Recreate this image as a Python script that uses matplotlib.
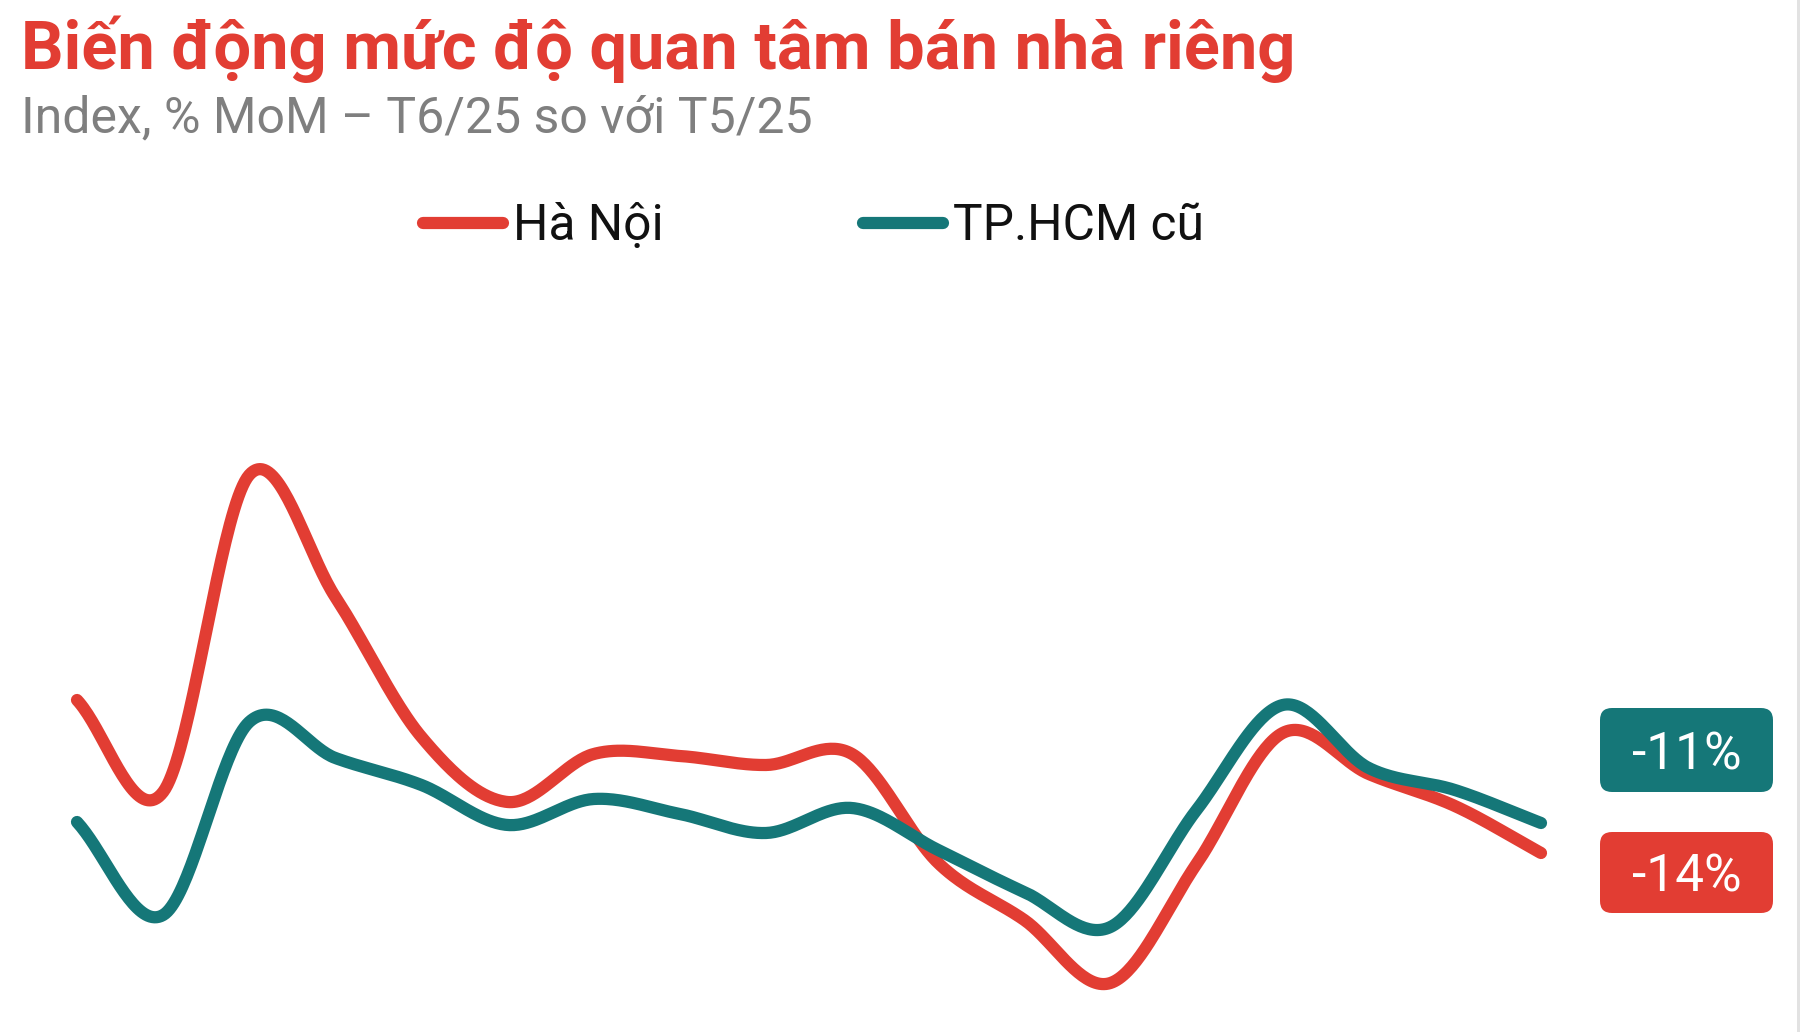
import numpy as np
import matplotlib
matplotlib.use("Agg")
import matplotlib.pyplot as plt
from matplotlib.patches import FancyBboxPatch, Rectangle
from matplotlib.lines import Line2D

# ---- data ----
months = ["T1/24", "T2/24", "T3/24", "T4/24", "T5/24", "T6/24", "T7/24", "T8/24", "T9/24",
          "T10/24", "T11/24", "T12/24", "T1/25", "T2/25", "T3/25", "T4/25", "T5/25", "T6/25"]
ha_noi = [60, 41.6, 105, 80.6, 52.6, 39.6, 49.2, 48.8, 47, 49.2, 27.4, 16, 3.4, 27.2, 53.4, 45.2, 38.8, 29.4]
hcm = [35.6, 17, 55.6, 48.4, 43, 35, 40.2, 37.2, 33.4, 38.4, 30, 21.6, 14.6, 38, 59, 46.4, 42, 35.4]
series_names = ["Hà Nội", "TP.HCM cũ"]
end_labels = ["-14%", "-11%"]

RED = "#e23d33"
TEAL = "#157778"

W, H = 1800, 1032
fig = plt.figure(figsize=(W / 100, H / 100), dpi=100)
fig.patch.set_facecolor("white")

def fx(px):
    return px / W

def fy(py):
    return 1 - py / H

# axes placement
left_px, right_px, top_px, bot_px = 77, 1541, 450, 1000
ax = fig.add_axes([fx(left_px), fy(bot_px), (right_px - left_px) / W, (bot_px - top_px) / H])
ax.set_xlim(0, len(months) - 1)
ax.set_ylim(0, 110)
ax.axis("off")


def catmull_rom(y, n=40):
    y = np.asarray(y, dtype=float)
    x = np.arange(len(y), dtype=float)
    p = np.concatenate([[2 * y[0] - y[1]], y, [2 * y[-1] - y[-2]]])
    xs, ys = [], []
    for i in range(len(y) - 1):
        p0, p1, p2, p3 = p[i], p[i + 1], p[i + 2], p[i + 3]
        m1 = (p2 - p0) / 2
        m2 = (p3 - p1) / 2
        t = np.linspace(0, 1, n, endpoint=(i == len(y) - 2))
        h00 = 2 * t**3 - 3 * t**2 + 1
        h10 = t**3 - 2 * t**2 + t
        h01 = -2 * t**3 + 3 * t**2
        h11 = t**3 - t**2
        xs.append(x[i] + t)
        ys.append(h00 * p1 + h10 * m1 + h01 * p2 + h11 * m2)
    return np.concatenate(xs), np.concatenate(ys)

LW = 8.8
for vals, col in [(ha_noi, RED), (hcm, TEAL)]:
    sx, sy = catmull_rom(vals)
    ax.plot(sx, sy, color=col, lw=LW, solid_capstyle="round", solid_joinstyle="round", clip_on=False)

# Title and subtitle
fig.text(fx(21), fy(69), "Biến động mức độ quan tâm bán nhà riêng", fontfamily="Roboto",
         fontweight="bold", fontsize=48.1, color=RED, ha="left", va="baseline")
fig.text(fx(21), fy(132), "Index, % MoM – T6/25 so với T5/25", fontfamily="Roboto",
         fontsize=36.0, color="#7f7f7f", ha="left", va="baseline")

# Legend
leg_y = 223
for (x0, x1, tx), name, col in zip([(423, 503, 513), (863, 943, 953)], series_names, [RED, TEAL]):
    fig.add_artist(Line2D([fx(x0), fx(x1)], [fy(leg_y), fy(leg_y)], color=col, lw=LW,
                          solid_capstyle="round", transform=fig.transFigure))
    fig.text(fx(tx), fy(240), name, fontfamily="Roboto", fontsize=35.7, color="#111111",
             ha="left", va="baseline")

# End labels
boxes = [(832, 913, RED), (708, 792, TEAL)]
for (y0, y1, col), lab in zip(boxes, end_labels):
    x0, x1 = 1600, 1773
    r = 12
    p = FancyBboxPatch((fx(x0 + r), fy(y1 - r)), (x1 - x0 - 2 * r) / W, (y1 - y0 - 2 * r) / H,
                       boxstyle=f"round,pad={r / W},rounding_size={r / W}",
                       transform=fig.transFigure, facecolor=col, edgecolor="none",
                       mutation_aspect=W / H)
    fig.add_artist(p)
    fig.text(fx((x0 + x1) / 2), fy((y0 + y1) / 2 + 19), lab, fontfamily="Roboto",
             fontsize=37, color="white", ha="center", va="baseline")

# right edge strip
fig.add_artist(Rectangle((fx(1797), 0), 3 / W, 1, transform=fig.transFigure,
                         facecolor="#e2e2e2", edgecolor="none"))

fig.savefig("out.png", dpi=100, facecolor="white")
